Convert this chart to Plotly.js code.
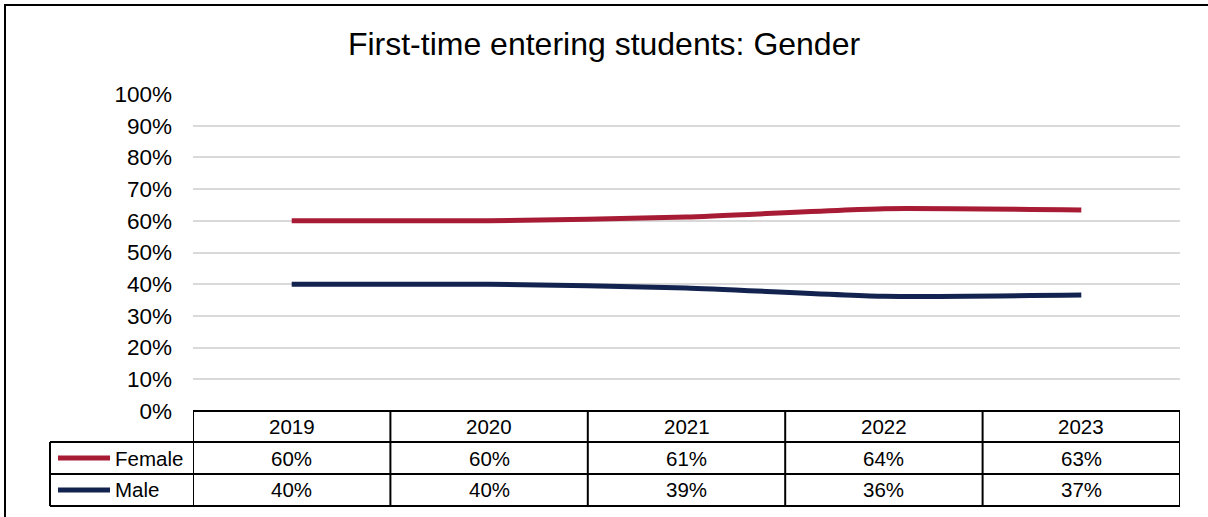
<!DOCTYPE html>
<html>
<head>
<meta charset="utf-8">
<script src="https://cdn.plot.ly/plotly-3.0.1.min.js"></script>
<style>
  html, body { margin: 0; padding: 0; background: #fff; }
  #chart { width: 1208px; height: 517px; }
</style>
</head>
<body>
<div id="chart"></div>
<script>
// ---- Data ----
const years = ['2019', '2020', '2021', '2022', '2023'];
const seriesNames = ['Female', 'Male'];
const female = [0.600, 0.600, 0.612, 0.638, 0.634];
const male = [0.400, 0.400, 0.388, 0.362, 0.366];
const colors = ['#A71C34', '#13234F'];
const chartTitle = 'First-time entering students: Gender';

// ---- Layout helpers (pixel -> paper) ----
const W = 1208, H = 517;
const px = v => v / W;
const py = v => 1 - v / H;

const plotLeft = 193, plotRight = 1180, plotTop = 94, plotBottom = 411;
const rowTops = [411, 442, 474, 506]; // header, Female, Male, bottom
const labelColLeft = 50;
const font = 'Liberation Sans, Arial, sans-serif';

const allSeries = [female, male];

const traces = allSeries.map((vals, i) => ({
  type: 'scatter',
  mode: 'lines',
  x: years,
  y: vals,
  name: seriesNames[i],
  line: { color: colors[i], width: 5, shape: 'spline', smoothing: 0.5 },
  hoverinfo: 'x+y+name'
}));

const shapes = [];
const annotations = [];
const black = { color: '#000', width: 2 };
const cellFont = { family: font, size: 20.5, color: '#000' };

// header top border (columns only)
shapes.push({ type: 'line', xref: 'x', yref: 'paper', x0: -0.5, x1: years.length - 0.5,
  y0: py(rowTops[0]), y1: py(rowTops[0]), line: black });
// row borders spanning label column too
for (let r = 1; r < rowTops.length; r++) {
  shapes.push({ type: 'line', xref: 'paper', yref: 'paper', x0: px(labelColLeft), x1: px(plotRight),
    y0: py(rowTops[r]), y1: py(rowTops[r]), line: black });
}
// column verticals
for (let c = 0; c <= years.length; c++) {
  shapes.push({ type: 'line', xref: 'x', yref: 'paper', x0: c - 0.5, x1: c - 0.5,
    y0: py(rowTops[0]), y1: py(rowTops[rowTops.length - 1]), line: black });
}
// label column left border
shapes.push({ type: 'line', xref: 'paper', yref: 'paper', x0: px(labelColLeft), x1: px(labelColLeft),
  y0: py(rowTops[1]), y1: py(rowTops[rowTops.length - 1]), line: black });

// header texts
years.forEach((yr, c) => {
  annotations.push({ xref: 'x', yref: 'paper', x: c, y: py((rowTops[0] + rowTops[1]) / 2),
    text: yr, showarrow: false, xanchor: 'center', yanchor: 'middle', font: cellFont });
});

// data rows
allSeries.forEach((vals, s) => {
  const yc = py((rowTops[s + 1] + rowTops[s + 2]) / 2);
  vals.forEach((v, c) => {
    annotations.push({ xref: 'x', yref: 'paper', x: c, y: yc,
      text: Math.round(v * 100) + '%', showarrow: false, xanchor: 'center', yanchor: 'middle',
      font: cellFont });
  });
  // legend key
  shapes.push({ type: 'line', xref: 'paper', yref: 'paper', x0: px(58), x1: px(110), y0: yc, y1: yc,
    line: { color: colors[s], width: 5 } });
  annotations.push({ xref: 'paper', yref: 'paper', x: px(113), y: yc,
    text: seriesNames[s], showarrow: false, xanchor: 'left', yanchor: 'middle', font: cellFont });
});

// outer chart border
shapes.push({ type: 'rect', xref: 'paper', yref: 'paper', x0: px(5), x1: px(1215), y0: py(5), y1: py(525),
  line: { color: '#000', width: 2 }, fillcolor: 'rgba(0,0,0,0)' });

const layout = {
  width: W, height: H,
  margin: { l: 0, r: 0, t: 0, b: 0 },
  paper_bgcolor: '#fff', plot_bgcolor: '#fff',
  showlegend: false,
  title: { text: chartTitle, x: 0.5, xanchor: 'center', y: py(44), yanchor: 'middle', yref: 'paper',
    font: { family: font, size: 32, color: '#000' } },
  xaxis: {
    domain: [px(plotLeft), px(plotRight)],
    type: 'category',
    range: [-0.5, years.length - 0.5],
    showgrid: false, zeroline: false, showline: false,
    showticklabels: false, ticks: ''
  },
  yaxis: {
    domain: [py(plotBottom), py(plotTop)],
    range: [0, 1],
    dtick: 0.1,
    tickformat: '.0%',
    showgrid: true, gridcolor: '#d9d9d9', gridwidth: 2,
    zeroline: false, showline: false,
    ticks: '', ticklabelstandoff: 20,
    tickfont: { family: font, size: 22.5, color: '#000' }
  },
  shapes: shapes,
  annotations: annotations,
  font: { family: font }
};

Plotly.newPlot('chart', traces, layout, { displayModeBar: false, responsive: false });
</script>
</body>
</html>
